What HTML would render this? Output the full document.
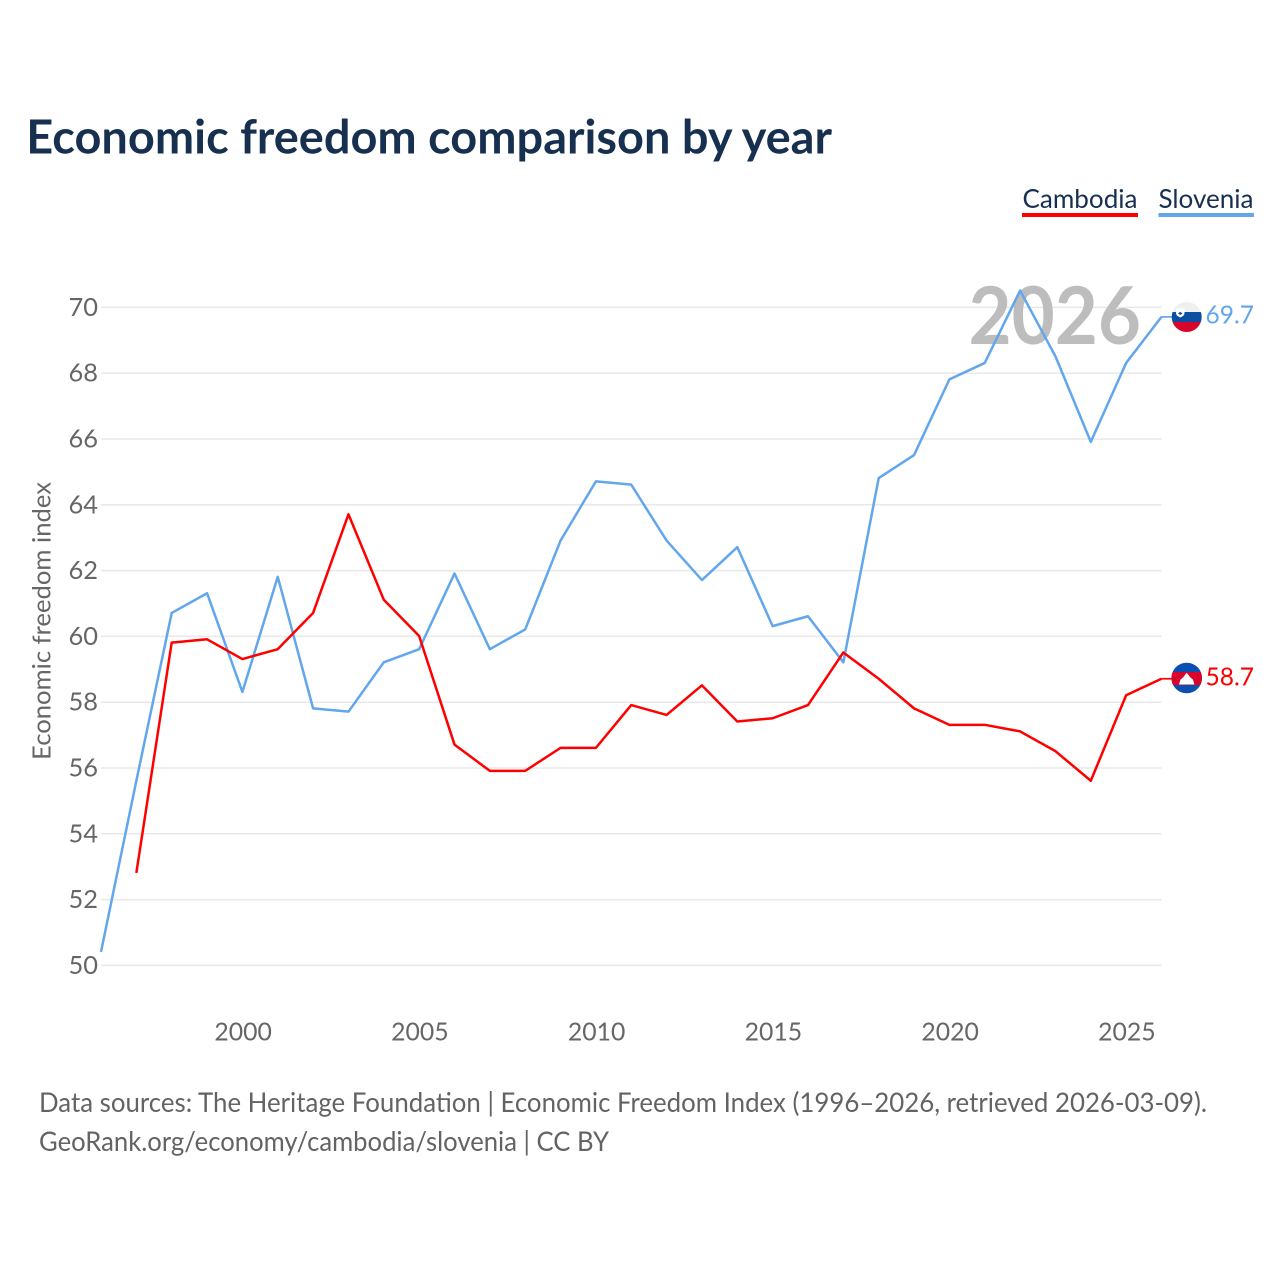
<!DOCTYPE html>
<html lang="en">
<head>
<meta charset="utf-8">
<title>Economic freedom comparison by year</title>
<style>
html,body{margin:0;padding:0;background:#fff;width:1280px;height:1280px;overflow:hidden}
svg{display:block}
text{font-family:"Lato","Carlito","Liberation Sans",sans-serif}
</style>
</head>
<body>
<svg id="chart" width="1280" height="1280" viewBox="0 0 1280 1280" xmlns="http://www.w3.org/2000/svg">
  <defs>
    <clipPath id="clip-si"><circle cx="1186.700" cy="317" r="15"/></clipPath>
    <clipPath id="clip-kh"><circle cx="1186.700" cy="678" r="15.300"/></clipPath>
  </defs>
  <text x="26.300" y="153.500" font-size="47" font-weight="700" fill="#18304f" textLength="805.700" lengthAdjust="spacingAndGlyphs">Economic freedom comparison by year</text>

  <g>
    <g>
      <text x="1022.500" y="208" font-size="26.500" fill="#18304f" textLength="115" lengthAdjust="spacingAndGlyphs">Cambodia</text>
      <rect x="1022" y="213" width="116" height="4" fill="#ff0000"/>
    </g>
    <g>
      <text x="1158.500" y="208" font-size="26.500" fill="#18304f" textLength="95" lengthAdjust="spacingAndGlyphs">Slovenia</text>
      <rect x="1158.500" y="213" width="95.500" height="4" fill="#62a6ec"/>
    </g>
  </g>

  <g id="grid"></g>
  <text x="968.500" y="344" font-size="80" font-weight="700" fill="#bdbdbd" textLength="172.500" lengthAdjust="spacingAndGlyphs">2026</text>
  <g id="y-ticks"></g>
  <g id="x-ticks"></g>
  <text transform="translate(50.500,621) rotate(-90)" text-anchor="middle" font-size="25.300" fill="#666666" textLength="278" lengthAdjust="spacingAndGlyphs">Economic freedom index</text>

  <path id="line-slovenia" fill="none" stroke="#62a6ec" stroke-width="2.500" stroke-linejoin="round"/>
  <path id="line-cambodia" fill="none" stroke="#ff0000" stroke-width="2.500" stroke-linejoin="round"/>
  <path id="connector-slovenia" fill="none" stroke="#62a6ec" stroke-width="1.700"/>
  <path id="connector-cambodia" fill="none" stroke="#ff0000" stroke-width="1.700"/>

  <g>
    <g clip-path="url(#clip-si)">
      <rect x="1171" y="302" width="32" height="10" fill="#f0f0f0"/>
      <rect x="1171" y="312" width="32" height="10" fill="#0b4ea2"/>
      <rect x="1171" y="322" width="32" height="10" fill="#d9042b"/>
      <path d="M1176 308.500h8.500v4.500q0 2.800-4.250 4.500q-4.250-1.700-4.250-4.500z" fill="#ffffff"/>
      <path d="M1178 313.500l2.250-1.800l2.250 1.800l-2.250 1.500z" fill="#0b4ea2"/>
    </g>
    <text id="label-slovenia" x="1205.500" y="323.500" font-size="25.500" fill="#62a6ec" textLength="48.500" lengthAdjust="spacingAndGlyphs"></text>
  </g>
  <g>
    <g clip-path="url(#clip-kh)">
      <rect x="1171" y="662" width="32" height="32" fill="#0b4fb0"/>
      <rect x="1171" y="672" width="32" height="13" fill="#d9042b"/>
      <path d="M1179 684.500L1180.500 679.500L1183 677.500L1186.700 672.800L1190.400 677.500L1192.900 679.500L1194.400 684.500z" fill="#ffffff"/>
    </g>
    <text id="label-cambodia" x="1205.500" y="685.500" font-size="25.500" fill="#ff0000" textLength="48.500" lengthAdjust="spacingAndGlyphs"></text>
  </g>

  <g>
    <text x="39" y="1112" font-size="27.300" fill="#636363" textLength="1168" lengthAdjust="spacingAndGlyphs">Data sources: The Heritage Foundation | Economic Freedom Index (1996–2026, retrieved 2026-03-09).</text>
    <text x="39" y="1151" font-size="27.300" fill="#636363" textLength="570" lengthAdjust="spacingAndGlyphs">GeoRank.org/economy/cambodia/slovenia | CC BY</text>
  </g>
</svg>
<script>
const years = [1996,1997,1998,1999,2000,2001,2002,2003,2004,2005,2006,2007,2008,2009,2010,2011,2012,2013,2014,2015,2016,2017,2018,2019,2020,2021,2022,2023,2024,2025,2026];
const sloveniaValues = [50.4,55.6,60.7,61.3,58.3,61.8,57.8,57.7,59.2,59.6,61.9,59.6,60.2,62.9,64.7,64.6,62.9,61.7,62.7,60.3,60.6,59.2,64.8,65.5,67.8,68.3,70.5,68.5,65.9,68.3,69.7];
const cambodiaValues = [null,52.8,59.8,59.9,59.3,59.6,60.7,63.7,61.1,60.0,56.7,55.9,55.9,56.6,56.6,57.9,57.6,58.5,57.4,57.5,57.9,59.5,58.7,57.8,57.3,57.3,57.1,56.5,55.6,58.2,58.7];
const yTickLabels = [50,52,54,56,58,60,62,64,66,68,70];
const xTickLabels = [2000,2005,2010,2015,2020,2025];

const NS = 'http://www.w3.org/2000/svg';
const xScale = function (year) { return 101 + (year - 1996) * (1060.5 / 30); };
const yScale = function (value) { return 965.4 - (value - 50) * (658 / 20); };
const lineY = function (value) { return yScale(value) - 0.4; };

function pathFor(values) {
  let d = '';
  let started = false;
  values.forEach(function (value, i) {
    if (value === null) { started = false; return; }
    d += (started ? 'L' : 'M') + xScale(years[i]).toFixed(2) + ' ' + lineY(value).toFixed(2);
    started = true;
  });
  return d;
}

const grid = document.getElementById('grid');
const yTicks = document.getElementById('y-ticks');
const xTicks = document.getElementById('x-ticks');

yTickLabels.forEach(function (tick) {
  const line = document.createElementNS(NS, 'line');
  
  
  line.setAttribute('x1', 101);
  line.setAttribute('x2', 1161.5);
  line.setAttribute('y1', yScale(tick));
  line.setAttribute('y2', yScale(tick));
  line.setAttribute('stroke', '#e9e9e9');
  line.setAttribute('stroke-width', '1.5');
  grid.appendChild(line);

  const label = document.createElementNS(NS, 'text');
  
  
  label.setAttribute('x', 98);
  label.setAttribute('y', yScale(tick) + 8.5);
  label.setAttribute('text-anchor', 'end');
  label.setAttribute('font-size', '25.5');
  label.setAttribute('textLength', '29.5');
  label.setAttribute('lengthAdjust', 'spacingAndGlyphs');
  label.setAttribute('fill', '#666666');
  label.textContent = tick;
  yTicks.appendChild(label);
});

xTickLabels.forEach(function (tick) {
  const label = document.createElementNS(NS, 'text');
  
  
  label.setAttribute('x', xScale(tick) + 0.7);
  label.setAttribute('y', 1040.5);
  label.setAttribute('text-anchor', 'middle');
  label.setAttribute('font-size', '25.5');
  label.setAttribute('textLength', '57.5');
  label.setAttribute('lengthAdjust', 'spacingAndGlyphs');
  label.setAttribute('fill', '#666666');
  label.textContent = tick;
  xTicks.appendChild(label);
});

const lastX = xScale(years[years.length - 1]);
const sloveniaLast = sloveniaValues[sloveniaValues.length - 1];
const cambodiaLast = cambodiaValues[cambodiaValues.length - 1];
document.getElementById('line-slovenia').setAttribute('d', pathFor(sloveniaValues));
document.getElementById('line-cambodia').setAttribute('d', pathFor(cambodiaValues));
document.getElementById('connector-slovenia').setAttribute('d', 'M' + lastX + ' ' + lineY(sloveniaLast) + 'H' + (lastX + 12));
document.getElementById('connector-cambodia').setAttribute('d', 'M' + lastX + ' ' + lineY(cambodiaLast) + 'H' + (lastX + 12));
document.getElementById('label-slovenia').textContent = sloveniaLast.toFixed(1);
document.getElementById('label-cambodia').textContent = cambodiaLast.toFixed(1);
</script>
</body>
</html>
